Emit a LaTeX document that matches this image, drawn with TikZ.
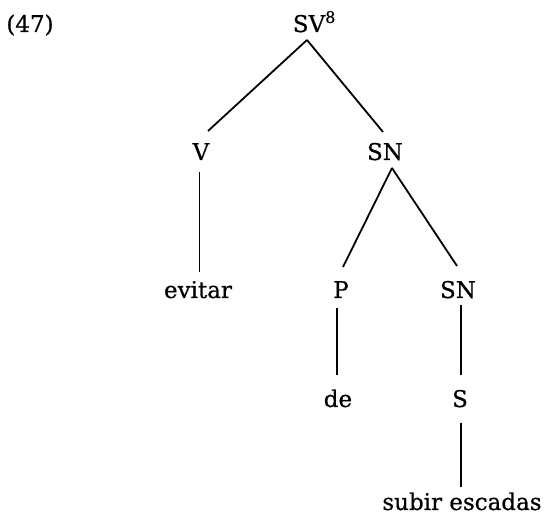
\documentclass[tikz,border=0pt]{standalone}
\usepackage{fontspec}
\setmainfont{DejaVu Serif}
\newfontfamily\treefont{DejaVu Serif}[FakeBold=0.6]
\begin{document}
\begin{tikzpicture}[x=1pt,y=1pt,
  lbl/.style={anchor=base,inner sep=0pt,outer sep=0pt,text height=17pt,text depth=0pt,font=\treefont\fontsize{23}{27}\selectfont},
  br/.style={line width=1.8pt}]
\useasboundingbox (0,0) rectangle (547,516);
\node[lbl] (ex) at (30,484) {(47)};
\node[lbl] (sv) at (309,484) {SV\rlap{\textsuperscript{8}}};
\node[lbl] (v) at (201,356) {V};
\node[lbl] (sn1) at (385,356) {SN};
\node[lbl] (evitar) at (198,218) {evitar};
\node[lbl] (p) at (341,218) {P};
\node[lbl] (sn2) at (458,218) {SN};
\node[lbl] (de) at (338,109) {de};
\node[lbl] (s) at (460,109) {S};
\node[lbl] (subir) at (462,6) {subir escadas};
\draw[br] ([xshift=-2pt,yshift=-8pt]sv.south) -- ([xshift=7pt,yshift=12pt]v.north);
\draw[br] ([xshift=-2pt,yshift=-8pt]sv.south) -- ([xshift=-2pt,yshift=11pt]sn1.north);
\draw[br] ([xshift=-1.5pt,yshift=-12pt]v.south) -- ([xshift=-1.5pt,yshift=9pt]v.south |- evitar.north);
\draw[br] ([xshift=7pt,yshift=-8pt]sn1.south) -- ([xshift=2pt,yshift=14pt]p.north);
\draw[br] ([xshift=7pt,yshift=-8pt]sn1.south) -- ([xshift=-1pt,yshift=15pt]sn2.north);
\draw[br] ([xshift=-4pt,yshift=-10pt]p.south) -- ([xshift=-4pt,yshift=15pt]p.south |- de.north);
\draw[br] ([xshift=3pt,yshift=-7pt]sn2.south) -- ([xshift=3pt,yshift=15pt]sn2.south |- s.north);
\draw[br] ([xshift=1pt,yshift=-16pt]s.south) -- ([xshift=1pt,yshift=6pt]s.south |- subir.north);
\end{tikzpicture}
\end{document}
